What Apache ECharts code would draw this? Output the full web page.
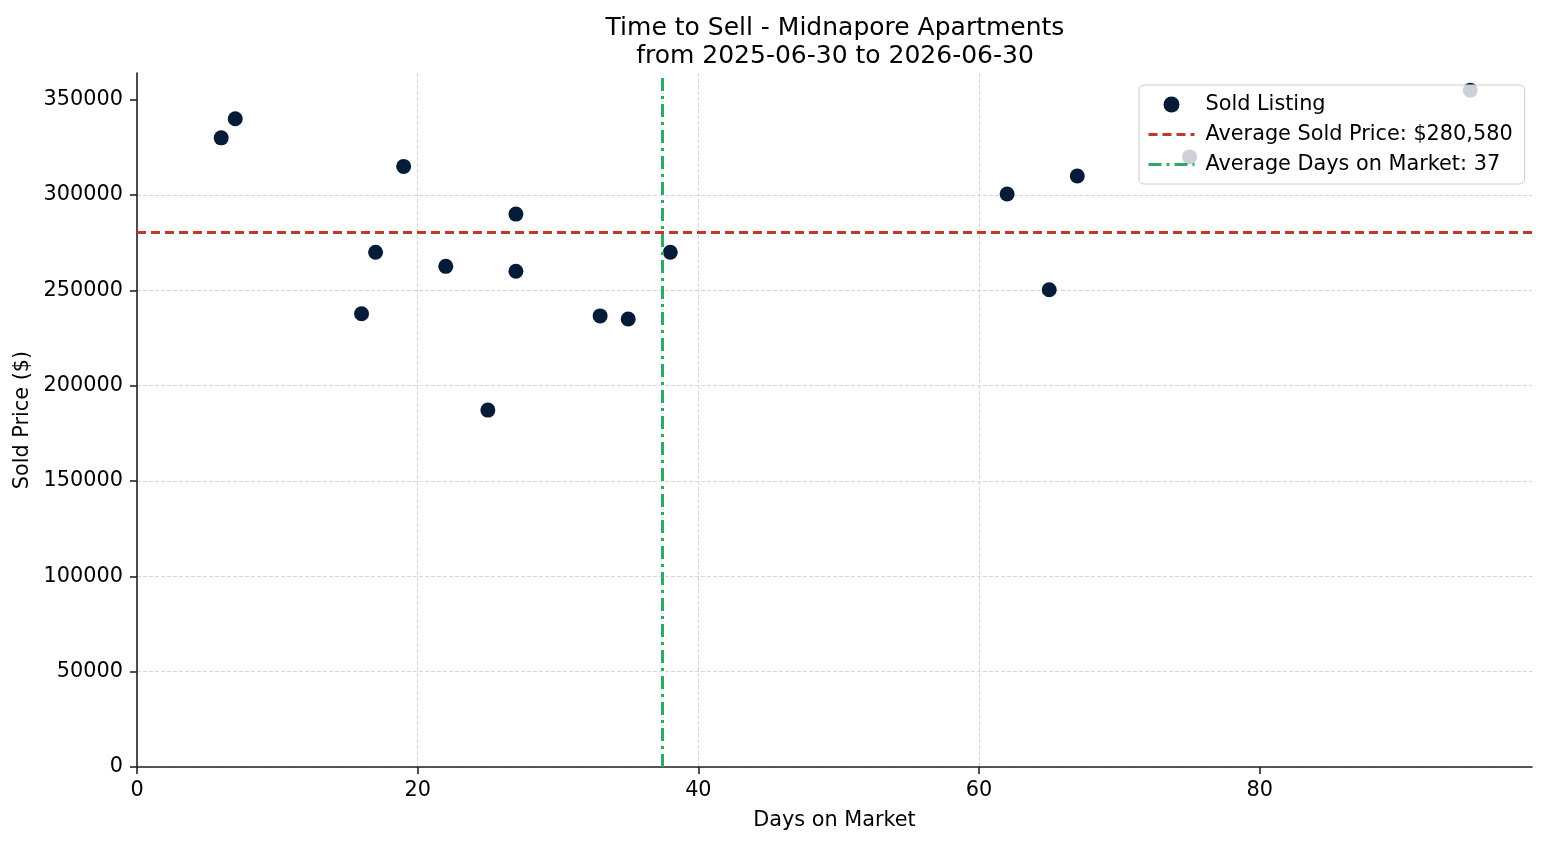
<!DOCTYPE html>
<html>
<head>
<meta charset="utf-8">
<title>Time to Sell - Midnapore Apartments</title>
<script src="https://cdn.jsdelivr.net/npm/echarts@6/dist/echarts.min.js"></script>
<style>
  html, body { margin: 0; padding: 0; background: #fff; }
  #chart { width: 1547px; height: 845px; }
</style>
</head>
<body>
<div id="chart"></div>
<script type="text/javascript">
// values
var daysOnMarket = [6, 7, 16, 17, 19, 22, 25, 27, 27, 33, 35, 38, 62, 65, 67, 75, 95];
var soldPrices = [330000, 340000, 237700, 270000, 315000, 262600, 187200, 290000, 260000,
                  236600, 235000, 270000, 300500, 250300, 310000, 320000, 355000];
var xTicks = [0, 20, 40, 60, 80];
var yTicks = [0, 50000, 100000, 150000, 200000, 250000, 300000, 350000];
var avgSoldPrice = 280580;
var avgDays = daysOnMarket.reduce(function (a, b) { return a + b; }, 0) / daysOnMarket.length;

var listings = daysOnMarket.map(function (d, i) { return [d, soldPrices[i]]; });

var font = 'DejaVu Sans';
var fs = 20.8;
var axisColor = '#222222';
var gridLine = { show: true, showMaxLine: false, lineStyle: { color: '#d6d6d6', width: 1, type: [4, 2] } };

var priceName = 'Average Sold Price: $' + avgSoldPrice.toLocaleString('en-US');
var daysName = 'Average Days on Market: ' + Math.round(avgDays);

var chart = echarts.init(document.getElementById('chart'));
chart.setOption({
  animation: false,
  textStyle: { fontFamily: font },
  title: {
    text: 'Time to Sell - Midnapore Apartments\nfrom 2025-06-30 to 2026-06-30',
    left: 830,
    top: 9,
    textAlign: 'center',
    textStyle: { fontFamily: font, fontSize: 25, fontWeight: 'normal', color: '#000', lineHeight: 28 }
  },
  grid: { left: 137, right: 15, top: 73, bottom: 78, containLabel: false },
  legend: {
    orient: 'vertical',
    left: 1139,
    top: 85,
    padding: [9, 12, 9, 8],
    itemGap: 9,
    itemWidth: 46,
    itemHeight: 16,
    backgroundColor: 'rgba(255,255,255,0.8)',
    borderColor: '#cccccc',
    borderWidth: 1,
    borderRadius: 5,
    textStyle: { fontFamily: font, fontSize: fs, color: '#000', padding: [0, 0, 0, 6] },
    data: [
      { name: 'Sold Listing', icon: 'circle' },
      { name: priceName, itemStyle: { opacity: 0 }, lineStyle: { width: 3 } },
      { name: daysName, itemStyle: { opacity: 0 }, lineStyle: { width: 3 } }
    ]
  },
  xAxis: {
    type: 'value',
    min: 0,
    max: 99.4,
    interval: 20,
    name: 'Days on Market',
    nameLocation: 'middle',
    nameGap: 43,
    nameTextStyle: { fontFamily: font, fontSize: fs, color: '#000' },
    axisLine: { show: true, onZero: false, lineStyle: { color: axisColor, width: 1.6 } },
    axisTick: { show: true, length: 7, customValues: xTicks, lineStyle: { color: axisColor, width: 1.6 } },
    axisLabel: { customValues: xTicks, margin: 13, fontFamily: font, fontSize: fs, color: '#000' },
    splitLine: gridLine
  },
  yAxis: {
    type: 'value',
    min: 0,
    max: 364000,
    interval: 50000,
    name: 'Sold Price ($)',
    nameLocation: 'middle',
    nameGap: 96,
    nameTextStyle: { fontFamily: font, fontSize: fs, color: '#000' },
    axisLine: { show: true, onZero: false, lineStyle: { color: axisColor, width: 1.6 } },
    axisTick: { show: true, length: 7, customValues: yTicks, lineStyle: { color: axisColor, width: 1.6 } },
    axisLabel: {
      customValues: yTicks,
      margin: 14,
      fontFamily: font,
      fontSize: fs,
      color: '#000',
      formatter: function (v) { return String(v); }
    },
    splitLine: gridLine
  },
  series: [
    {
      name: 'Sold Listing',
      type: 'scatter',
      symbol: 'circle',
      symbolSize: 15,
      itemStyle: { color: '#051c38', opacity: 1 },
      data: listings,
      z: 3
    },
    {
      name: priceName,
      type: 'line',
      data: [],
      symbol: 'none',
      color: '#c0392b',
      lineStyle: { color: '#c0392b', width: 3, type: [9, 5] },
      markLine: {
        silent: true,
        symbol: 'none',
        label: { show: false },
        lineStyle: { color: '#c0392b', width: 3, type: [9, 5] },
        data: [{ yAxis: avgSoldPrice }]
      }
    },
    {
      name: daysName,
      type: 'line',
      data: [],
      symbol: 'none',
      color: '#27ae60',
      lineStyle: { color: '#27ae60', width: 3, type: [13, 5, 3, 5] },
      markLine: {
        silent: true,
        symbol: 'none',
        label: { show: false },
        lineStyle: { color: '#27ae60', width: 3, type: [13, 5, 3, 5] },
        data: [{ xAxis: avgDays }]
      }
    }
  ]
});
</script>
</body>
</html>
